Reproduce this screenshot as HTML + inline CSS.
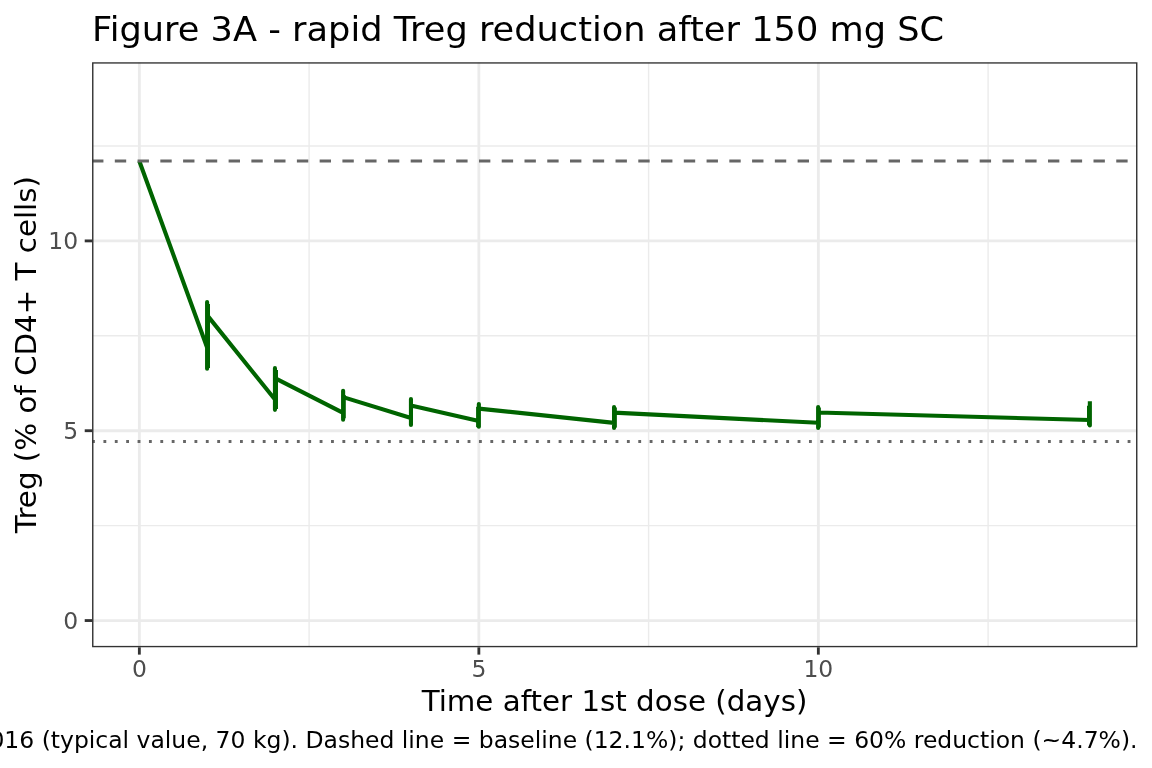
<!DOCTYPE html>
<html><head><meta charset="utf-8"><style>
html,body{margin:0;padding:0;background:#fff;}
svg{display:block;}
svg{will-change:transform;}
text{font-family:"DejaVu Sans","Liberation Sans",sans-serif;}
</style></head><body>
<svg width="1152" height="768" viewBox="0 0 1152 768">
<rect x="0" y="0" width="1152" height="768" fill="#fff"/>
<defs><clipPath id="pc"><rect x="92.05" y="62.2" width="1045.4" height="585.0999999999999"/></clipPath></defs>
<g clip-path="url(#pc)">
<g stroke="#ebebeb" stroke-width="1.42" fill="none"><line x1="309.10" y1="62.2" x2="309.10" y2="647.3"/><line x1="648.60" y1="62.2" x2="648.60" y2="647.3"/><line x1="988.10" y1="62.2" x2="988.10" y2="647.3"/><line x1="92.05" y1="525.64" x2="1137.45" y2="525.64"/><line x1="92.05" y1="335.81" x2="1137.45" y2="335.81"/><line x1="92.05" y1="145.99" x2="1137.45" y2="145.99"/></g>
<g stroke="#ebebeb" stroke-width="2.84" fill="none"><line x1="139.35" y1="62.2" x2="139.35" y2="647.3"/><line x1="478.85" y1="62.2" x2="478.85" y2="647.3"/><line x1="818.35" y1="62.2" x2="818.35" y2="647.3"/><line x1="92.05" y1="620.55" x2="1137.45" y2="620.55"/><line x1="92.05" y1="430.72" x2="1137.45" y2="430.72"/><line x1="92.05" y1="240.90" x2="1137.45" y2="240.90"/></g>
<g stroke="#006400" stroke-width="4.1" fill="none"><path d="M139.30,161.00 L207.10,347.50 L207.10,368.80 L207.10,302.00 L207.10,315.10 L274.95,399.50 L274.95,409.85 L274.95,368.15 L274.95,378.20 L343.12,412.90 L343.12,419.65 L343.12,390.70 L343.12,397.10 L410.95,418.00 L410.95,425.05 L410.95,398.95 L410.95,405.40 L478.85,420.90 L478.85,426.70 L478.85,404.05 L478.85,408.60 L614.05,422.90 L614.05,428.05 L614.05,406.95 L614.05,412.60 L818.15,422.80 L818.15,427.95 L818.15,407.05 L818.15,412.50 L1089.85,420.00 L1089.85,425.55 L1089.85,401.30" stroke-linejoin="round" stroke-linecap="butt"/><line x1="207.95" y1="304.0" x2="207.95" y2="368.0"/><line x1="275.95" y1="370.0" x2="275.95" y2="409.0"/><line x1="343.71" y1="395.0" x2="343.71" y2="418.3"/><line x1="478.15" y1="406.8" x2="478.15" y2="427.2"/><line x1="614.8" y1="407.5" x2="614.8" y2="427.6"/><line x1="818.8" y1="407.6" x2="818.8" y2="427.5"/><line x1="1089.05" y1="405.7" x2="1089.05" y2="425.6"/></g>
<line x1="92.05" y1="161.0" x2="1137.45" y2="161.0" stroke="#666666" stroke-width="2.84" stroke-dasharray="11.38 11.38"/>
<line x1="92.05" y1="441.5" x2="1137.45" y2="441.5" stroke="#666666" stroke-width="2.84" stroke-dasharray="2.84 8.54"/>
<rect x="92.05" y="62.2" width="1045.4" height="585.0999999999999" fill="none" stroke="#333333" stroke-width="2.84"/>
</g>
<g stroke="#333333" stroke-width="2.84"><line x1="139.35" y1="647.3" x2="139.35" y2="654.63"/><line x1="478.85" y1="647.3" x2="478.85" y2="654.63"/><line x1="818.35" y1="647.3" x2="818.35" y2="654.63"/><line x1="92.05" y1="620.55" x2="84.72" y2="620.55"/><line x1="92.05" y1="430.72" x2="84.72" y2="430.72"/><line x1="92.05" y1="240.90" x2="84.72" y2="240.90"/></g>
<g font-size="23.47" fill="#4d4d4d"><text x="139.35" y="676.5" text-anchor="middle">0</text><text x="478.85" y="676.5" text-anchor="middle">5</text><text x="818.35" y="676.5" text-anchor="middle">10</text><text x="78.2" y="628.95" text-anchor="end">0</text><text x="78.2" y="439.12" text-anchor="end">5</text><text x="78.2" y="249.30" text-anchor="end">10</text></g>
<text transform="translate(92,41) scale(1,0.98)" font-size="35.2" fill="#000">Figure 3A - rapid Treg reduction after 150 mg SC</text>
<text transform="translate(614.5,711) scale(1,0.96)" font-size="29.33" fill="#000" text-anchor="middle">Time after 1st dose (days)</text>
<text transform="translate(36,354.6) rotate(-90) scale(1,0.96)" font-size="29.33" fill="#000" text-anchor="middle">Treg (% of CD4+ T cells)</text>
<text x="1137.5" y="748" font-size="23.47" fill="#000" text-anchor="end">2016 (typical value, 70 kg). Dashed line = baseline (12.1%); dotted line = 60% reduction (~4.7%).</text>
</svg>
</body></html>
